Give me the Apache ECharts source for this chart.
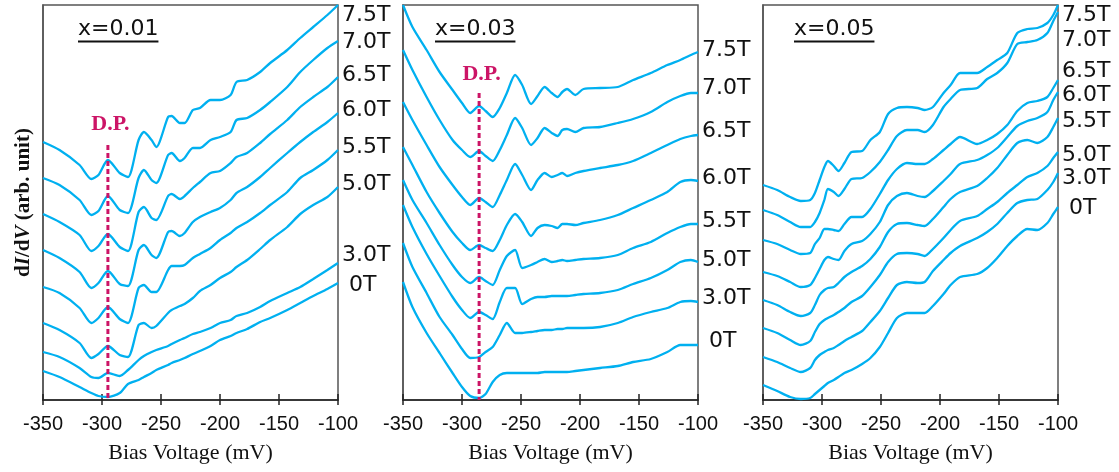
<!DOCTYPE html>
<html>
<head>
<meta charset="utf-8">
<script src="https://cdn.jsdelivr.net/npm/echarts@6/dist/echarts.min.js"></script>
<style>
  html, body { margin: 0; padding: 0; background: #ffffff; }
  #chart { width: 1119px; height: 472px; }
</style>
</head>
<body>
<div id="chart"></div>
<script>
// Magnetic fields of the stacked dI/dV spectra (top to bottom)
const fields = ['7.5T', '7.0T', '6.5T', '6.0T', '5.5T', '5.0T', '3.0T', '0T'];
const panelTitles = ['x=0.01', 'x=0.03', 'x=0.05'];
const biasTicks = [-350, -300, -250, -200, -150, -100];

// ---- x = 0.01 ----
const biasA = [-350, -336, -319, -309, -303, -295, -285, -278, -269, -264.5, -258, -254, -244, -241, -234, -230, -223, -217, -208, -200, -191, -186, -177, -166, -157.5, -143, -132, -121, -109, -100];
const a75 = [258, 250, 235, 221, 225, 240, 227, 223, 260, 268, 260, 253, 283, 284, 277, 277, 290, 292, 300, 300, 305, 318, 320, 328, 337, 350, 362, 373, 385, 395];
const a70 = [222, 215, 200, 185, 189, 204, 190, 187, 222, 230, 220, 217, 245, 247, 239, 242, 252, 252, 260, 263, 268, 280, 282, 290, 298, 313, 328, 340, 352, 359];
const a65 = [186, 178, 165, 149, 154, 166, 153, 149, 188, 193, 182, 180, 204, 206, 201, 204, 212, 218, 227, 229, 237, 243, 247, 257, 266, 280, 293, 303, 313, 323];
const a60 = [150, 142, 128, 112, 117, 129, 116, 114, 150, 155, 145, 142, 168, 169, 164, 167, 178, 183, 188, 192, 200, 207, 213, 223, 232, 247, 258, 268, 278, 287];
const a55 = [113, 107, 92, 77, 82, 93, 81, 77, 112, 115, 108, 108, 130, 134, 134, 135, 142, 146, 152, 160, 167, 172, 178, 187, 195, 208, 222, 230, 240, 250];
const a50 = [77, 70, 57, 42, 46, 54, 45, 43, 75, 77, 72, 74, 87, 90, 94, 96, 102, 109, 115, 122, 128, 133, 140, 151, 160, 173, 186, 195, 203, 213];
const a30 = [48, 43, 32, 23, 22, 27, 24, 30, 40, 44, 48, 50, 54, 56, 60, 62, 66, 68, 72, 77, 80, 84, 87, 93, 99, 107, 113, 121, 130, 137];
const a00 = [29, 23, 13, 7, 4, 3, 7, 16, 20, 23, 27, 30, 35, 37, 40, 42, 46, 49, 54, 60, 64, 67, 71, 78, 82, 90, 97, 104, 111, 117];
const labelLevelA = [384.5, 357.5, 324.5, 289.5, 252.5, 215.5, 144.5, 114.5];

// ---- x = 0.03 ----
const biasB = [-350, -342, -330, -319, -308, -300, -293, -285.5, -280, -274, -268, -262, -255, -249, -241.5, -236, -230, -224, -219, -215, -211, -204, -197, -183, -168, -155, -140, -126, -115, -106, -100];
const b75 = [395, 373, 350, 328, 310, 297, 287, 294, 289, 283, 292, 307, 325, 315, 296, 304, 313, 307, 303, 308, 311, 305, 311, 312, 313, 320, 327, 335, 340, 345, 348];
const b70 = [350, 330, 303, 280, 260, 250, 243, 249, 244, 239, 250, 265, 282, 272, 255, 262, 272, 267, 264, 270, 271, 268, 272, 273, 277, 281, 288, 298, 304, 307, 307];
const b65 = [298, 280, 255, 233, 215, 203, 195, 202, 198, 193, 205, 220, 236, 225, 210, 220, 227, 223, 225, 227, 224, 227, 229, 232, 235, 239, 247, 255, 261, 264, 265];
const b60 = [253, 235, 208, 187, 168, 157, 150, 155, 152, 149, 160, 175, 186, 178, 164, 172, 175, 174, 172, 176, 176, 175, 177, 180, 185, 192, 200, 208, 218, 220, 219];
const b55 = [220, 200, 177, 155, 135, 123, 117, 123, 119, 115, 130, 144, 150, 132, 135, 138, 141, 138, 139, 140, 139, 140, 141, 142, 145, 152, 158, 167, 173, 176, 176];
const b50 = [195, 173, 146, 124, 103, 90, 82, 88, 85, 81, 98, 112, 112, 96, 101, 103, 103, 104, 104, 104, 104, 105, 106, 107, 110, 116, 122, 130, 138, 140, 138];
const b30 = [157, 133, 107, 83, 65, 51, 42, 43, 48, 53, 65, 77, 67, 67, 68, 69, 70, 70, 71, 71, 72, 72, 72, 73, 77, 83, 88, 92, 98, 99, 98];
const b00 = [118, 93, 67, 47, 27, 13, 4, 2, 6, 18, 25, 27, 27, 27, 27, 27, 28, 28, 28, 28, 28, 29, 30, 32, 34, 38, 41, 48, 55, 55, 55];
const labelLevelB = [350, 311.5, 268.5, 222, 178.5, 140, 101.5, 58.5];

// ---- x = 0.05 ----
const biasC = [-350, -338, -327, -318, -310, -306, -302, -298, -295, -290, -286, -281, -275, -266, -259, -251, -244, -236.5, -228, -219, -213, -206, -197, -191, -183, -168.5, -160, -151.5, -143, -134.5, -126, -117.5, -109, -104, -100];
const c75 = [215, 210, 203, 199, 200, 207, 220, 233, 239, 234, 229, 237, 248, 249, 260, 268, 286, 292, 293, 292, 290, 293, 307, 315, 327, 327, 333, 340, 347, 367, 371, 372, 377, 385, 395];
const c70 = [190, 185, 178, 173, 173, 178, 187, 200, 211, 208, 204, 211, 221, 222, 228, 238, 250, 264, 270, 270, 268, 275, 293, 301, 310, 312, 321, 327, 337, 356, 358, 360, 367, 379, 388];
const c65 = [160, 156, 150, 146, 147, 156, 162, 171, 171, 170, 169, 176, 183, 183, 191, 206, 220, 231, 237, 236, 236, 241, 250, 256, 263, 256, 260, 266, 275, 289, 297, 299, 303, 312, 320];
const c60 = [128, 124, 118, 113, 115, 122, 131, 140, 143, 141, 140, 149, 156, 159, 166, 178, 195, 204, 207, 204, 203, 209, 219, 226, 236, 240, 245, 252, 263, 274, 279, 282, 288, 300, 308];
const c55 = [100, 95, 88, 84, 87, 95, 105, 110, 112, 113, 117, 123, 128, 134, 141, 153, 168, 176, 177, 175, 174, 181, 193, 201, 208, 214, 222, 232, 245, 257, 260, 257, 263, 273, 282];
const c50 = [72, 67, 60, 55, 59, 68, 76, 80, 82, 85, 88, 92, 98, 104, 113, 125, 138, 146, 147, 146, 144, 151, 162, 170, 179, 184, 191, 198, 207, 215, 223, 227, 234, 242, 248];
const c30 = [43, 38, 32, 28, 32, 40, 45, 48, 50, 52, 55, 59, 63, 69, 78, 89, 102, 115, 118, 117, 118, 129, 140, 147, 154, 162, 168, 176, 187, 197, 200, 201, 210, 218, 227];
const c00 = [15, 9, 3, 1, 2, 6, 10, 14, 17, 20, 23, 27, 30, 36, 42, 53, 67, 82, 87, 87, 87, 94, 106, 115, 123, 126, 132, 142, 154, 164, 171, 170, 177, 186, 193];
const labelLevelC = [385, 360, 328.5, 305, 278.5, 245, 222, 192];

// Dirac point markers (x=0.01 and x=0.03 only): bias, top of dashed line, label height
const dpBias = [-295, -285.5];
const dpTop = [255, 307];
const dpLabelLevel = [276, 326];

// ---------------------------------------------------------------
const panels = [
  { bias: biasA, curves: [a75, a70, a65, a60, a55, a50, a30, a00], levels: labelLevelA },
  { bias: biasB, curves: [b75, b70, b65, b60, b55, b50, b30, b00], levels: labelLevelB },
  { bias: biasC, curves: [c75, c70, c65, c60, c55, c50, c30, c00], levels: labelLevelC }
];

const LINE = '#00b0f0';
const DP = '#cc1466';
const gridLeft = [43, 403, 763];
const GRID_W = 295, GRID_TOP = 5, GRID_H = 395;
const titleOffset = [35, 32, 31];
const SANS = '"DejaVu Sans", sans-serif';
const SERIF = '"Liberation Serif", "Times New Roman", serif';
const AXIS_SANS = '"Liberation Sans", Arial, sans-serif';

const grids = [], xAxes = [], yAxes = [], series = [];
panels.forEach((p, i) => {
  grids.push({
    left: gridLeft[i], top: GRID_TOP, width: GRID_W, height: GRID_H,
    show: true, borderColor: '#555', borderWidth: 1.5, containLabel: false
  });
  // main bias axis: outward ticks + labels + title
  xAxes.push({
    gridIndex: i, type: 'value', min: biasTicks[0], max: biasTicks[biasTicks.length - 1], interval: 50,
    axisLine: { show: true, onZero: false, lineStyle: { color: '#222', width: 1.5 } },
    axisTick: { show: true, inside: false, length: 5, lineStyle: { color: '#222', width: 1.5 } },
    axisLabel: { fontFamily: AXIS_SANS, fontSize: 20, color: '#111', margin: 14 },
    splitLine: { show: false },
    name: 'Bias Voltage (mV)', nameLocation: 'middle', nameGap: 42,
    nameTextStyle: { fontFamily: SERIF, fontSize: 22, color: '#111' }
  });
  // companion axis drawing the inward half of each tick
  xAxes.push({
    gridIndex: i, type: 'value', min: biasTicks[0], max: biasTicks[biasTicks.length - 1], interval: 50,
    position: 'bottom',
    axisLine: { show: false, onZero: false },
    axisTick: { show: true, inside: true, length: 6, lineStyle: { color: '#222', width: 1.5 } },
    axisLabel: { show: false }, splitLine: { show: false }
  });
  const y = {
    gridIndex: i, type: 'value', min: 0, max: 395,
    axisLine: { show: true, lineStyle: { color: '#555', width: 1.5 } },
    axisTick: { show: false }, axisLabel: { show: false }, splitLine: { show: false }
  };
  if (i === 0) {
    Object.assign(y, {
      name: 'd{i|I}/d{i|V} (arb. unit)', nameLocation: 'middle', nameGap: 9, nameRotate: 90,
      nameTextStyle: {
        fontFamily: SERIF, fontSize: 21, fontWeight: 'bold', color: '#111',
        rich: { i: { fontFamily: SERIF, fontSize: 21, fontWeight: 'bold', fontStyle: 'italic', color: '#111' } }
      }
    });
  }
  yAxes.push(y);

  p.curves.forEach((c, k) => {
    series.push({
      name: panelTitles[i] + ' ' + fields[k], type: 'line',
      xAxisIndex: i * 2, yAxisIndex: i,
      data: p.bias.map((v, j) => [v, c[j]]),
      showSymbol: false, smooth: 0.25, silent: true,
      lineStyle: { color: LINE, width: 2.3 }, z: 2
    });
  });
});

dpBias.forEach((b, i) => {
  series.push({
    name: 'D.P. ' + panelTitles[i], type: 'line', xAxisIndex: i * 2, yAxisIndex: i,
    data: [[b, dpTop[i]], [b, 0]], showSymbol: false, silent: true,
    lineStyle: { color: DP, width: 3, type: [5, 3] }, z: 5
  });
});

const chart = echarts.init(document.getElementById('chart'), null, { renderer: 'canvas' });
chart.setOption({
  animation: false,
  backgroundColor: '#ffffff',
  grid: grids, xAxis: xAxes, yAxis: yAxes, series: series
});

// Text overlays: panel titles (underlined), field labels, D.P. labels
const measure = document.createElement('canvas').getContext('2d');
const graphic = [];
panels.forEach((p, i) => {
  const tx = gridLeft[i] + titleOffset[i];
  measure.font = '22px ' + SANS;
  const w = measure.measureText(panelTitles[i]).width;
  graphic.push({
    type: 'text', x: tx, y: 29, z: 10,
    style: { text: panelTitles[i], fontFamily: SANS, fontSize: 22, fill: '#111', verticalAlign: 'middle', align: 'left' }
  });
  graphic.push({
    type: 'line', z: 10,
    shape: { x1: tx, y1: 41.5, x2: tx + w, y2: 41.5 },
    style: { stroke: '#111', lineWidth: 2 }
  });
  p.levels.forEach((lv, k) => {
    const pt = chart.convertToPixel({ xAxisIndex: i * 2, yAxisIndex: i }, [biasTicks[biasTicks.length - 1], lv]);
    graphic.push({
      type: 'text', x: pt[0] + 4, y: pt[1], z: 10,
      style: { text: (fields[k] === '0T' ? ' ' : '') + fields[k], fontFamily: SANS, fontSize: 22, fill: '#111', verticalAlign: 'middle', align: 'left' }
    });
  });
});
dpBias.forEach((b, i) => {
  const pt = chart.convertToPixel({ xAxisIndex: i * 2, yAxisIndex: i }, [b, dpLabelLevel[i]]);
  graphic.push({
    type: 'text', x: pt[0] + 2.5, y: pt[1], z: 10,
    style: { text: 'D.P.', fontFamily: SERIF, fontSize: 22, fontWeight: 'bold', fill: DP, verticalAlign: 'middle', align: 'center' }
  });
});
chart.setOption({ graphic: graphic });
</script>
</body>
</html>
